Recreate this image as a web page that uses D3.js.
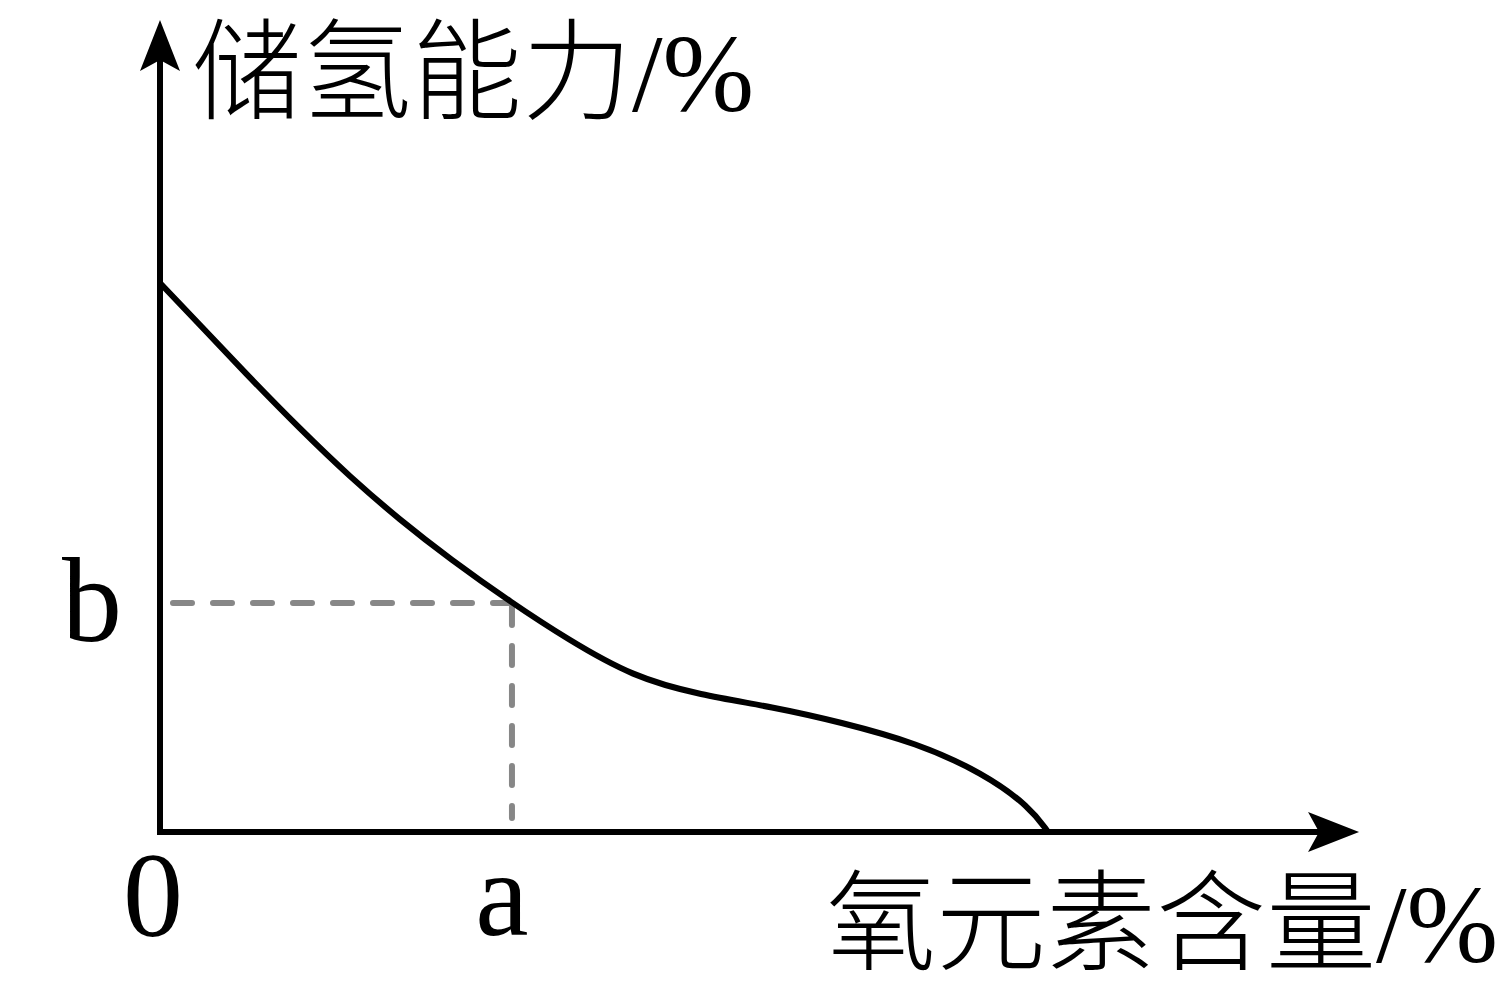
<!DOCTYPE html>
<html>
<head>
<meta charset="utf-8">
<script src="https://cdn.jsdelivr.net/npm/d3@7"></script>
<style>
  html, body { margin: 0; padding: 0; background: #fff; }
  svg { display: block; }
</style>
</head>
<body>
<svg id="chart" width="1505" height="1005"></svg>
<script>
// ---- data ----
const oxygenContent = [0, 3.33, 7.5, 11.67, 15.83, 20, 24.17, 29.33, 33.92, 39.42, 45, 51.08, 56.67, 63.08, 68.58, 72.5, 74];
const storageCapacity = [68.63, 63.38, 56.75, 50.38, 44.38, 39, 34.13, 28.63, 24.13, 19.38, 17.13, 15.63, 13.75, 11.13, 7.38, 3.13, 0];
const markX = 29.33;   // "a"
const markY = 28.63;   // "b"
const xTickLabels = ["0", "a"];
const yTickLabels = ["b"];
const yTitle = "储氢能力";
const xTitle = "氧元素含量";
const unit = "/%";

// ---- layout ----
const svg = d3.select("#chart");
const x = d3.scaleLinear().domain([0, 100]).range([160, 1360]);
const y = d3.scaleLinear().domain([0, 100]).range([832, 32]);

const ink = "#000";
const sw = 6;
const serif = "'Liberation Serif', 'Times New Roman', serif";
const cjk = "'Noto Sans CJK SC', 'Noto Sans CJK JP', sans-serif";

// dashed guide lines
const gray = "#878787";
svg.append("line")
  .attr("x1", x(0) + 13).attr("y1", y(markY))
  .attr("x2", x(markX)).attr("y2", y(markY))
  .attr("stroke", gray).attr("stroke-width", sw)
  .attr("stroke-dasharray", "19 21").attr("stroke-linecap", "round");
svg.append("line")
  .attr("x1", x(markX)).attr("y1", y(markY) + 3)
  .attr("x2", x(markX)).attr("y2", y(0) - 14)
  .attr("stroke", gray).attr("stroke-width", sw)
  .attr("stroke-dasharray", "19 21").attr("stroke-linecap", "round");

// curve
const pts = oxygenContent.map((v, i) => [v, storageCapacity[i]]);
const line = d3.line().x(d => x(d[0])).y(d => y(d[1])).curve(d3.curveBasis);
svg.append("path").datum(pts)
  .attr("d", line)
  .attr("fill", "none").attr("stroke", ink).attr("stroke-width", sw)
  .attr("stroke-linejoin", "round");

// axes
const x0 = x(0), y0 = y(0);
const xTip = x(99.92), yTip = y(101.5);
svg.append("line")
  .attr("x1", x0 - sw / 2).attr("y1", y0).attr("x2", xTip - 40).attr("y2", y0)
  .attr("stroke", ink).attr("stroke-width", sw);
svg.append("line")
  .attr("x1", x0).attr("y1", y0 + sw / 2).attr("x2", x0).attr("y2", yTip + 40)
  .attr("stroke", ink).attr("stroke-width", sw);
// arrowheads
svg.append("path")
  .attr("d", `M${xTip},${y0} L${xTip - 51},${y0 - 20} L${xTip - 40},${y0} L${xTip - 51},${y0 + 20} Z`)
  .attr("fill", ink);
svg.append("path")
  .attr("d", `M${x0},${yTip} L${x0 - 20},${yTip + 51} L${x0},${yTip + 40} L${x0 + 20},${yTip + 51} Z`)
  .attr("fill", ink);

// tick labels
svg.append("text").text(xTickLabels[0])
  .attr("x", x(0) - 7).attr("y", 936)
  .attr("text-anchor", "middle").attr("font-family", serif).attr("font-size", 120).attr("fill", ink);
svg.append("text").text(xTickLabels[1])
  .attr("x", x(markX) - 10).attr("y", 935)
  .attr("text-anchor", "middle").attr("font-family", serif).attr("font-size", 120).attr("fill", ink);
svg.append("text").text(yTickLabels[0])
  .attr("x", 92).attr("y", y(markY) + 38)
  .attr("text-anchor", "middle").attr("font-family", serif).attr("font-size", 120).attr("fill", ink);

// axis titles
const yt = svg.append("text").attr("x", 192).attr("y", 111).attr("fill", ink).attr("font-size", 110);
yt.append("tspan").text(yTitle).attr("font-family", cjk).attr("font-weight", 300);
yt.append("tspan").text(unit).attr("font-family", serif);

const xt = svg.append("text").attr("x", 826).attr("y", 962).attr("fill", ink).attr("font-size", 110);
xt.append("tspan").text(xTitle).attr("font-family", cjk).attr("font-weight", 300);
xt.append("tspan").text(unit).attr("font-family", serif);
</script>
</body>
</html>
